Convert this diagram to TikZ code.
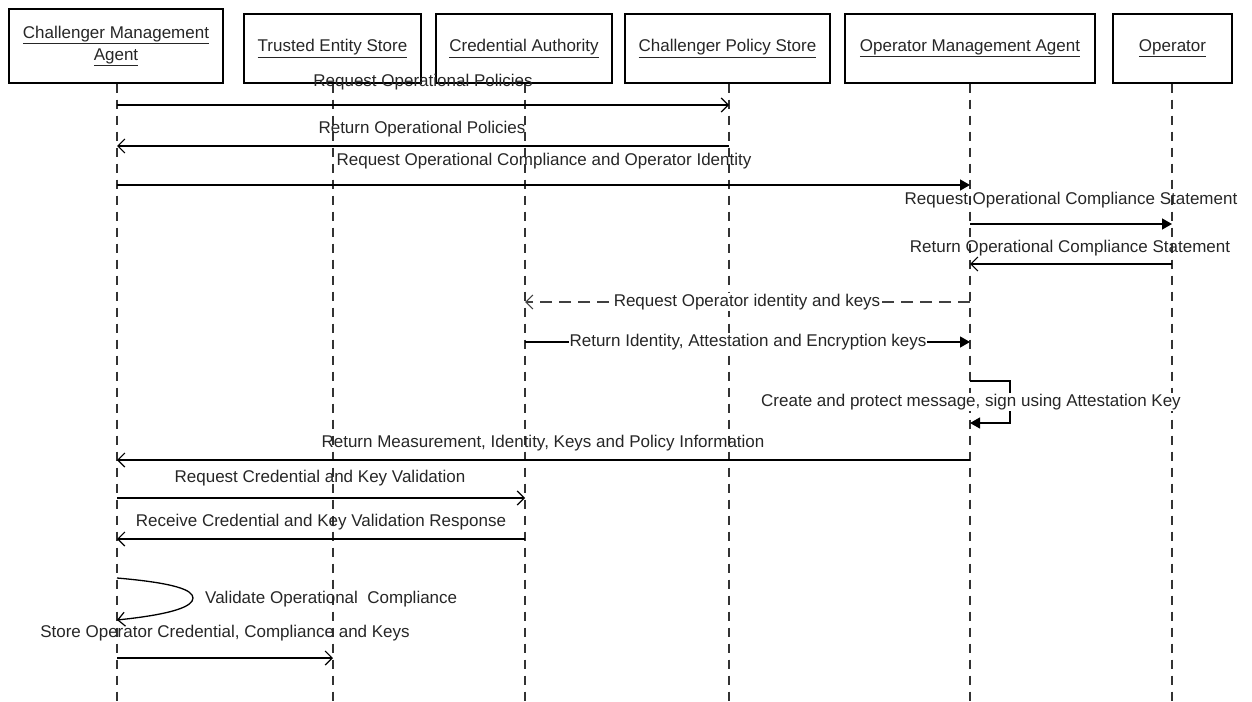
\documentclass[tikz,border=0pt]{standalone}
\usepackage{fontspec}
\setmainfont{Liberation Sans}
\usetikzlibrary{arrows.meta}
\begin{document}
\begin{tikzpicture}[x=1pt,y=-1pt, font=\fontsize{17}{20}\selectfont,
  actor/.style={draw, line width=1.2pt, minimum height=69pt, inner sep=2pt, align=center, text=black!85},
  life/.style={line width=1.2pt, dash pattern=on 9pt off 7pt, draw=black!80},
  msg/.style={line width=1.3pt, -{Straight Barb[length=7pt,width=14pt,line width=1.2pt]}},
  fmsg/.style={line width=1.3pt, -{Triangle[length=10pt,width=11pt]}},
  dmsg/.style={msg, dash pattern=on 12pt off 7pt, draw=black!75},
  lbl/.style={inner sep=1pt, text=black!85},
  wlbl/.style={inner sep=1pt, fill=white, text=black!85}]
\useasboundingbox (0,0) rectangle (1252,701);
% participants
\node[actor, minimum width=214pt, minimum height=74pt] (cma) at (116,46) {\underline{Challenger Management}\\[2pt]\underline{Agent}};
\node[actor, minimum width=177pt] (tes) at (332.5,48.5) {\underline{Trusted Entity Store}};
\node[actor, minimum width=176pt] (ca) at (524,48.5) {\underline{Credential Authority}};
\node[actor, minimum width=205pt] (cps) at (727.5,48.5) {\underline{Challenger Policy Store}};
\node[actor, minimum width=250pt] (oma) at (970,48.5) {\underline{Operator Management Agent}};
\node[actor, minimum width=119pt] (op) at (1172.5,48.5) {\underline{Operator}};
% lifeline ends
\coordinate (cmaE) at (117,701);
\coordinate (tesE) at (333,701);
\coordinate (caE) at (525,701);
\coordinate (cpsE) at (729,701);
\coordinate (omaE) at (970,701);
\coordinate (opE) at (1172,701);
\draw[life] (cma.south -| cmaE) -- (cmaE);
\draw[life] (tes.south -| tesE) -- (tesE);
\draw[life] (ca.south -| caE) -- (caE);
\draw[life] (cps.south -| cpsE) -- (cpsE);
\draw[life] (oma.south -| omaE) -- (omaE);
\draw[life] (op.south -| opE) -- (opE);
% message endpoints
\coordinate (m1a) at (117,105); \coordinate (m1b) at (729,105);
\coordinate (m2a) at (729,146); \coordinate (m2b) at (117,146);
\coordinate (m3a) at (117,185); \coordinate (m3b) at (970,185);
\coordinate (m4a) at (970,224); \coordinate (m4b) at (1172,224);
\coordinate (m5a) at (1172,264); \coordinate (m5b) at (970,264);
\coordinate (m6a) at (970,302); \coordinate (m6b) at (525,302);
\coordinate (m7a) at (525,342); \coordinate (m7b) at (970,342);
\coordinate (m8a) at (970,381); \coordinate (m8b) at (970,423);
\coordinate (m9a) at (970,460); \coordinate (m9b) at (117,460);
\coordinate (m10a) at (117,498); \coordinate (m10b) at (525,498);
\coordinate (m11a) at (525,539); \coordinate (m11b) at (117,539);
\coordinate (m12a) at (117,578); \coordinate (m12b) at (117,620);
\coordinate (m13a) at (117,658); \coordinate (m13b) at (333,658);
% messages
\draw[msg] (m1a) -- (m1b);
\node[lbl] (l1) at (423,82) {Request Operational Policies};
\draw[msg] (m2a) -- (m2b);
\node[lbl] (l2) at (422,129) {Return Operational Policies};
\draw[fmsg] (m3a) -- (m3b);
\node[lbl] (l3) at (544,161) {Request Operational Compliance and Operator Identity};
\draw[fmsg] (m4a) -- (m4b);
\node[lbl] (l4) at (1071,200) {Request Operational Compliance Statement};
\draw[msg] (m5a) -- (m5b);
\node[lbl] (l5) at (1070,248) {Return Operational Compliance Statement};
\draw[dmsg] (m6a) -- (m6b);
\node[wlbl] (l6) at (747,302) {Request Operator identity and keys};
\draw[fmsg] (m7a) -- (m7b);
\node[wlbl] (l7) at (748,342) {Return Identity, Attestation and Encryption keys};
\draw[fmsg] (m8a) -- ++(40,0) |- (m8b);
\node[wlbl] (l8) at (971,402) {Create and protect message, sign using Attestation Key};
\draw[msg] (m9a) -- (m9b);
\node[lbl] (l9) at (543,443) {Return Measurement, Identity, Keys and Policy Information};
\draw[msg] (m10a) -- (m10b);
\node[lbl] (l10) at (320,478) {Request Credential and Key Validation};
\draw[msg] (m11a) -- (m11b);
\node[lbl] (l11) at (321,522) {Receive Credential and Key Validation Response};
\draw[msg] (m12a) .. controls (175,583) and (193,590) .. (193,598) .. controls (193,606) and (175,614) .. (m12b);
\node[lbl, anchor=west] (l12) at (204,599) {Validate Operational\ \ Compliance};
\draw[msg] (m13a) -- (m13b);
\node[lbl] (l13) at (225,633) {Store Operator Credential, Compliance and Keys};
\end{tikzpicture}
\end{document}
